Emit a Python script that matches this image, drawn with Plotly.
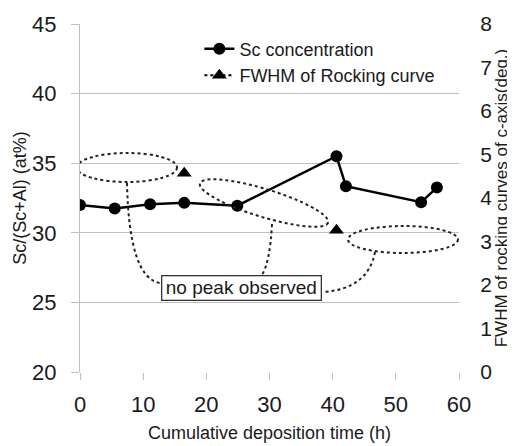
import numpy as np
import plotly.graph_objects as go

# ---- data ----
time_h = [0, 5.5, 11.1, 16.5, 24.9, 40.6, 42.1, 54.0, 56.5]
sc_conc = [32.0, 31.75, 32.05, 32.15, 31.95, 35.5, 33.35, 32.2, 33.25]
fwhm = [None, None, None, 4.57, None, 3.26, None, None, None]

x_ticks = [0, 10, 20, 30, 40, 50, 60]
y_ticks = [20, 25, 30, 35, 40, 45]
y2_ticks = [0, 1, 2, 3, 4, 5, 6, 7, 8]

FONT = "Arial, Liberation Sans, sans-serif"
TXT = "#1a1a1a"
GRID = "#bfbfbf"

# page body has an 8px margin; figure spans 8..515 x 8..446
OFF = 8
W, H = 515 - OFF, 446 - OFF
# plot area in window pixels (for placing decorations)
L, R, T, B = 80, 459, 24, 372
XMIN, XMAX, YMIN, YMAX = 0, 60, 20, 45
Y2MIN, Y2MAX = 0, 8


def px2x(px):
    return XMIN + (px - L) / (R - L) * (XMAX - XMIN)


def px2y(py):
    return YMAX - (py - T) / (B - T) * (YMAX - YMIN)


def pt(px, py):
    return f"{px2x(px):.4f},{px2y(py):.4f}"


fig = go.Figure()
fig.add_trace(go.Scatter(
    x=time_h, y=sc_conc, name="Sc concentration", mode="lines+markers",
    line=dict(color="black", width=2.5),
    marker=dict(symbol="circle", size=12, color="black"),
))
fig.add_trace(go.Scatter(
    x=time_h, y=fwhm, name="FWHM of Rocking curve", mode="lines+markers",
    yaxis="y2", connectgaps=False,
    line=dict(color="black", width=2, dash="dot"),
    marker=dict(symbol="triangle-up", size=13, color="black"),
))

shapes = []
dot = dict(color="#222", width=2, dash="dot")

# horizontal dotted ellipses
for (x0, y0, x1, y1) in [(77, 153, 177, 182), (348, 226, 458, 253)]:
    shapes.append(dict(type="circle", xref="x", yref="y",
                       x0=px2x(x0), x1=px2x(x1), y0=px2y(y1), y1=px2y(y0),
                       line=dot, layer="above"))

# tilted ellipse
cx, cy, a, b, ang = 264, 203, 67, 14, np.deg2rad(17)
t = np.linspace(0, 2 * np.pi, 73)
ex = cx + a * np.cos(t) * np.cos(ang) - b * np.sin(t) * np.sin(ang)
ey = cy + a * np.cos(t) * np.sin(ang) + b * np.sin(t) * np.cos(ang)
path = "M " + " L ".join(pt(u, v) for u, v in zip(ex, ey)) + " Z"
shapes.append(dict(type="path", xref="x", yref="y", path=path, line=dot))

# leader curves
shapes.append(dict(type="path", xref="x", yref="y", line=dot,
                   path=f"M {pt(127, 183)} Q {pt(129, 278)} {pt(160, 283)}"))
shapes.append(dict(type="path", xref="x", yref="y", line=dot,
                   path=f"M {pt(272, 224)} Q {pt(270, 262)} {pt(262, 275)}"))
shapes.append(dict(type="path", xref="x", yref="y", line=dot,
                   path=f"M {pt(375, 252)} Q {pt(368, 289)} {pt(323, 292)}"))

fig.update_layout(
    width=W, height=H,
    margin=dict(l=L - OFF, r=515 - R, t=T - OFF, b=446 - B, pad=0),
    paper_bgcolor="white", plot_bgcolor="white",
    font=dict(family=FONT, color=TXT, size=18),
    showlegend=True,
    legend=dict(x=0.315, y=0.981, xanchor="left", yanchor="top",
                bgcolor="rgba(255,255,255,0)", font=dict(size=18, color=TXT),
                tracegroupgap=0, itemwidth=30),
    xaxis=dict(range=[XMIN, XMAX], tickvals=x_ticks, showgrid=False,
               ticks="outside", ticklen=7, tickcolor=GRID, showline=False,
               zeroline=False, tickfont=dict(size=22), automargin=False,
               ticklabelstandoff=6,
               title=dict(text="Cumulative deposition time (h)", font=dict(size=18), standoff=9)),
    yaxis=dict(range=[YMIN, YMAX], tickvals=y_ticks, showgrid=True, gridcolor=GRID,
               gridwidth=1.3, ticks="outside", ticklen=8, tickcolor=GRID,
               showline=True, linecolor=GRID, linewidth=1.3, zeroline=False,
               tickfont=dict(size=22), automargin=False, ticklabelstandoff=10,
               title=dict(text="Sc/(Sc+Al) (at%)", font=dict(size=18), standoff=0)),
    # right axis: labels and title (long invisible ticks push labels outward)
    yaxis2=dict(range=[Y2MIN, Y2MAX], tickvals=y2_ticks, overlaying="y", side="right",
                showgrid=False, ticks="outside", ticklen=16,
                tickcolor="rgba(0,0,0,0)", showline=False, zeroline=False,
                tickfont=dict(size=21), automargin=False,
                title=dict(text="FWHM of rocking curves of c-axis(deg.)",
                           font=dict(size=17), standoff=0)),
    # right axis: visible line and short ticks
    yaxis3=dict(range=[Y2MIN, Y2MAX], tickvals=y2_ticks, overlaying="y", side="right",
                showgrid=False, ticks="outside", ticklen=7, tickcolor=GRID,
                showline=True, linecolor=GRID, linewidth=1.3, zeroline=False,
                showticklabels=False, automargin=False),
    shapes=shapes,
    annotations=[dict(x=px2x(241), y=px2y(287.5), xref="x", yref="y",
                      text="no peak observed", showarrow=False,
                      font=dict(size=19, color=TXT), bgcolor="white",
                      bordercolor="#333", borderwidth=1.3, borderpad=1,
                      width=156, height=21)],
)

fig.write_html("out.html")
